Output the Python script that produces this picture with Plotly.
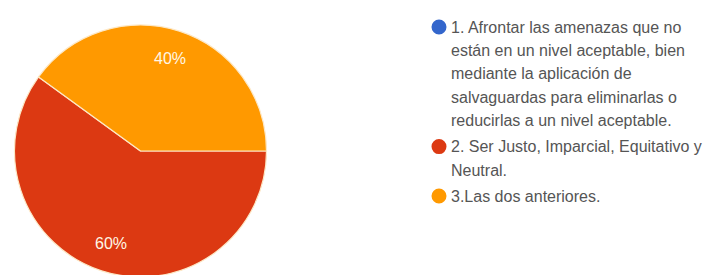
import math
import plotly.graph_objects as go

labels = [
    "1. Afrontar las amenazas que no<br>están en un nivel aceptable, bien<br>mediante la aplicación de<br>salvaguardas para eliminarlas o<br>reducirlas a un nivel aceptable.",
    "2. Ser Justo, Imparcial, Equitativo y<br>Neutral.",
    "3.Las dos anteriores.",
]
values = [0, 3, 2]
colors = ["#3366cc", "#dc3912", "#ff9900"]

W, H = 711, 275
cx, cy, r = 132.5, 143, 126

fig = go.Figure(go.Pie(
    labels=labels,
    values=values,
    marker=dict(colors=colors, line=dict(color="#fde8c6", width=1.2)),
    sort=False,
    direction="clockwise",
    rotation=90,
    textinfo="none",
    showlegend=False,
    hoverinfo="label+percent",
    domain=dict(x=[(cx - r) / W, (cx + r) / W], y=[(H - cy - r) / H, (H - cy + r) / H]),
))

shapes = []
annotations = []

# percentage labels placed along each slice bisector
total = sum(values)
cum = 0.0
for v in values:
    frac = v / total
    if v > 0:
        ang = math.radians(-360 * (cum + frac / 2))
        px = cx + 0.77 * r * math.cos(ang)
        py = cy - 0.77 * r * math.sin(ang)
        annotations.append(dict(text=f"{round(frac * 100)}%", xref="paper", yref="paper",
                                x=px / W, y=(H - py) / H, xanchor="center", yanchor="middle",
                                showarrow=False,
                                font=dict(family="Liberation Sans, Arial, sans-serif", size=16, color="#fff7e6")))
    cum += frac

font = dict(family="Liberation Sans, Arial, sans-serif", size=16, color="#555555")
y = 19.0
step = 23.4
gap = 2.6
mx, tx, mr = 431, 441, 7.5
for lab, col in zip(labels, colors):
    lines = lab.split("<br>")
    shapes.append(dict(type="circle", xref="paper", yref="paper",
                       x0=(mx - mr) / W, x1=(mx + mr) / W,
                       y0=(H - y - mr) / H, y1=(H - y + mr) / H,
                       fillcolor=col, line=dict(width=0)))
    for ln in lines:
        annotations.append(dict(text=ln, xref="paper", yref="paper",
                                x=tx / W, y=(H - y) / H, xanchor="left", yanchor="middle",
                                showarrow=False, font=font))
        y += step
    y += gap

fig.update_layout(
    width=W, height=H,
    margin=dict(l=0, r=0, t=0, b=0),
    paper_bgcolor="white", plot_bgcolor="white",
    shapes=shapes, annotations=annotations,
)
fig.write_html("out.html")
